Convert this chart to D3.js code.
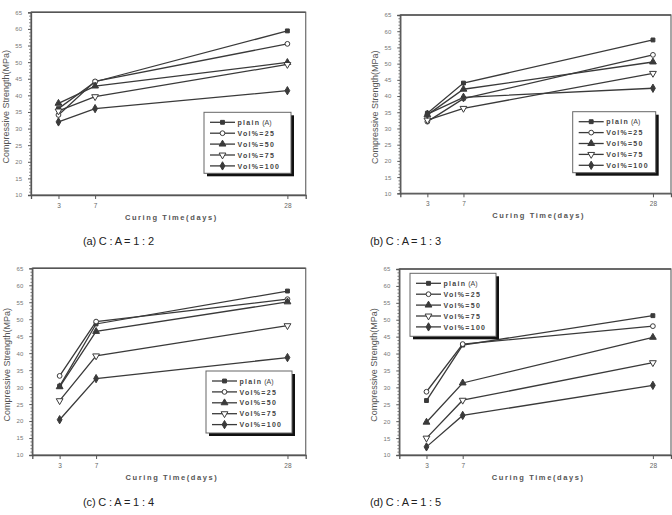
<!DOCTYPE html>
<html>
<head>
<meta charset="utf-8">
<script src="https://cdn.jsdelivr.net/npm/d3@7"></script>
<style>
  html, body { margin: 0; padding: 0; background: #fff; }
  svg { display: block; font-family: Arial, "Liberation Sans", sans-serif; }
</style>
</head>
<body>
<div id="chart"></div>
<script>
// Données
const days = [3, 7, 28];
const seriesNames = ["plain", "Vol%=25", "Vol%=50", "Vol%=75", "Vol%=100"];
const yTicks = [10, 15, 20, 25, 30, 35, 40, 45, 50, 55, 60, 65];

// C:A = 1:2
const valuesA = [
  [36.0, 44.1, 59.4],
  [34.1, 44.2, 55.5],
  [37.6, 42.8, 49.9],
  [35.3, 39.6, 49.3],
  [32.0, 36.0, 41.4]
];
// C:A = 1:3
const valuesB = [
  [34.7, 44.0, 57.3],
  [32.1, 39.2, 52.7],
  [34.2, 42.1, 50.5],
  [32.6, 36.2, 47.0],
  [34.4, 39.6, 42.4]
];
// C:A = 1:4
const valuesC = [
  [30.3, 48.6, 58.3],
  [33.3, 49.3, 55.9],
  [30.1, 46.4, 55.1],
  [26.0, 39.2, 48.1],
  [20.4, 32.5, 38.7]
];
// C:A = 1:5
const valuesD = [
  [26.1, 42.5, 51.2],
  [28.7, 42.8, 48.1],
  [19.7, 31.3, 44.8],
  [15.0, 26.2, 37.3],
  [12.4, 21.7, 30.6]
];
const captions = ["(a) C : A = 1 : 2", "(b) C : A = 1 : 3", "(c) C : A = 1 : 4", "(d) C : A = 1 : 5"];

// Disposition des quatre panneaux
const panels = [
  { values: valuesA, x0: 31,  x1: 305.7, y0: 12.3, y1: 195, leg: { x: 173, y: 100, w: 87, h: 61 }, cap: { x: 118.5, y: 245 } },
  { values: valuesB, x0: 400.3, x1: 671, y0: 15, y1: 193.3, leg: { x: 172.4, y: 96.7, w: 83, h: 61 }, cap: { x: 405.5, y: 245 } },
  { values: valuesC, x0: 32.3, x1: 305.7, y0: 268.3, y1: 455, leg: { x: 173.7, y: 102.7, w: 86, h: 62 }, cap: { x: 118.5, y: 506 } },
  { values: valuesD, x0: 399.3, x1: 671, y0: 269, y1: 455, leg: { x: 10.7, y: 4.3, w: 86, h: 63 }, cap: { x: 405.5, y: 506 } }
];

const W = 672, H = 515;
const lineColor = "#3a3a3a";

const svg = d3.select("#chart").append("svg")
  .attr("width", W)
  .attr("height", H);

// Symboles des séries
const symbols = [
  { type: d3.symbolSquare, size: 15, fill: lineColor },
  { type: d3.symbolCircle, size: 18, fill: "#fff" },
  { type: d3.symbolTriangle, size: 20, fill: lineColor },
  { type: d3.symbolTriangle, size: 20, fill: "#fff", rot: 180 },
  { type: d3.symbolDiamond, size: 20, fill: lineColor }
];

function drawMarker(g, i, x, y) {
  const s = symbols[i];
  g.append("path")
    .attr("d", d3.symbol().type(s.type).size(s.size)())
    .attr("transform", `translate(${x},${y})` + (s.rot ? ` rotate(${s.rot})` : ""))
    .attr("fill", s.fill)
    .attr("stroke", lineColor)
    .attr("stroke-width", 1);
}

panels.forEach((p, k) => {
  const g = svg.append("g");
  const x = d3.scaleLinear().domain([0, 30]).range([p.x0, p.x1]);
  const y = d3.scaleLinear().domain([10, 65]).range([p.y1, p.y0]);

  // Cadre
  g.append("rect")
    .attr("x", p.x0).attr("y", p.y0)
    .attr("width", p.x1 - p.x0).attr("height", p.y1 - p.y0)
    .attr("fill", "none")
    .attr("stroke", "#777")
    .attr("stroke-width", 1.3);
  g.append("line")
    .attr("x1", p.x0).attr("x2", p.x1)
    .attr("y1", p.y0).attr("y2", p.y0)
    .attr("stroke", "#555").attr("stroke-width", 1.6);

  // Axe Y
  const yAxis = g.append("g")
    .attr("transform", `translate(${p.x0},0)`)
    .call(d3.axisLeft(y).tickValues(yTicks).tickSize(3).tickPadding(6));
  yAxis.select(".domain").attr("stroke", "#555").attr("stroke-width", 1.3);
  yAxis.selectAll(".tick line").attr("stroke", "#555");
  yAxis.selectAll("text").attr("fill", "#777").style("font-size", "6px");

  // graduations secondaires
  g.append("g")
    .attr("transform", `translate(${p.x0},0)`)
    .call(d3.axisLeft(y).tickValues(d3.range(11, 65, 1).filter(v => v % 5 !== 0)).tickSize(1.8).tickFormat(""))
    .call(a => a.select(".domain").remove())
    .selectAll(".tick line").attr("stroke", "#777");

  // Axe X
  const xAxis = g.append("g")
    .attr("transform", `translate(0,${p.y1})`)
    .call(d3.axisBottom(x).tickValues(days).tickSize(4).tickPadding(4));
  xAxis.select(".domain").attr("stroke", "#555").attr("stroke-width", 1.3);
  xAxis.selectAll(".tick line").attr("stroke", "#555");
  xAxis.selectAll("text").attr("fill", "#666").style("font-size", "6.5px");

  // Titres des axes
  g.append("text")
    .attr("transform", `translate(${p.x0 - 22},${(p.y0 + p.y1) / 2 + 3}) rotate(-90)`)
    .attr("text-anchor", "middle")
    .style("font-size", "9px")
    .attr("fill", "#555")
    .text("Compressive Strength(MPa)");

  g.append("text")
    .attr("x", (p.x0 + p.x1) / 2 + 3)
    .attr("y", p.y1 + 25)
    .attr("text-anchor", "middle")
    .style("font-size", "7.5px")
    .style("font-weight", "bold")
    .style("letter-spacing", "1.6px")
    .attr("fill", "#555")
    .text("Curing Time(days)");

  // Courbes
  const line = d3.line().x((d, i) => x(days[i])).y(d => y(d));
  p.values.forEach((vals, i) => {
    g.append("path")
      .datum(vals)
      .attr("d", line)
      .attr("fill", "none")
      .attr("stroke", lineColor)
      .attr("stroke-width", 1.3);
  });
  p.values.forEach((vals, i) => {
    vals.forEach((v, j) => drawMarker(g, i, x(days[j]), y(v)));
  });

  // Légende avec ombre
  const lx = p.x0 + p.leg.x, ly = p.y0 + p.leg.y;
  g.append("rect")
    .attr("x", lx + 3).attr("y", ly + 3)
    .attr("width", p.leg.w).attr("height", p.leg.h)
    .attr("fill", "#111");
  g.append("rect")
    .attr("x", lx).attr("y", ly)
    .attr("width", p.leg.w).attr("height", p.leg.h)
    .attr("fill", "#fff")
    .attr("stroke", "#666")
    .attr("stroke-width", 1);
  seriesNames.forEach((name, i) => {
    const yy = ly + 10 + i * 10.9;
    g.append("line")
      .attr("x1", lx + 6).attr("x2", lx + 31)
      .attr("y1", yy).attr("y2", yy)
      .attr("stroke", lineColor).attr("stroke-width", 1.3);
    drawMarker(g, i, lx + 18.5, yy);
    const t = g.append("text")
      .attr("x", lx + 33.5)
      .attr("y", yy + 2.6)
      .style("font-size", "7px")
      .style("font-weight", "bold")
      .style("letter-spacing", "1.3px")
      .attr("fill", "#444")
      .text(name);
    if (i === 0) {
      t.append("tspan")
        .style("font-weight", "normal")
        .style("letter-spacing", "0px")
        .text(" (A)");
    }
  });

  // Légende du panneau
  svg.append("text")
    .attr("x", p.cap.x)
    .attr("y", p.cap.y)
    .attr("text-anchor", "middle")
    .attr("textLength", 71)
    .attr("lengthAdjust", "spacing")
    .style("font-size", "11px")
    .attr("fill", "#222")
    .text(captions[k]);
});
</script>
</body>
</html>
